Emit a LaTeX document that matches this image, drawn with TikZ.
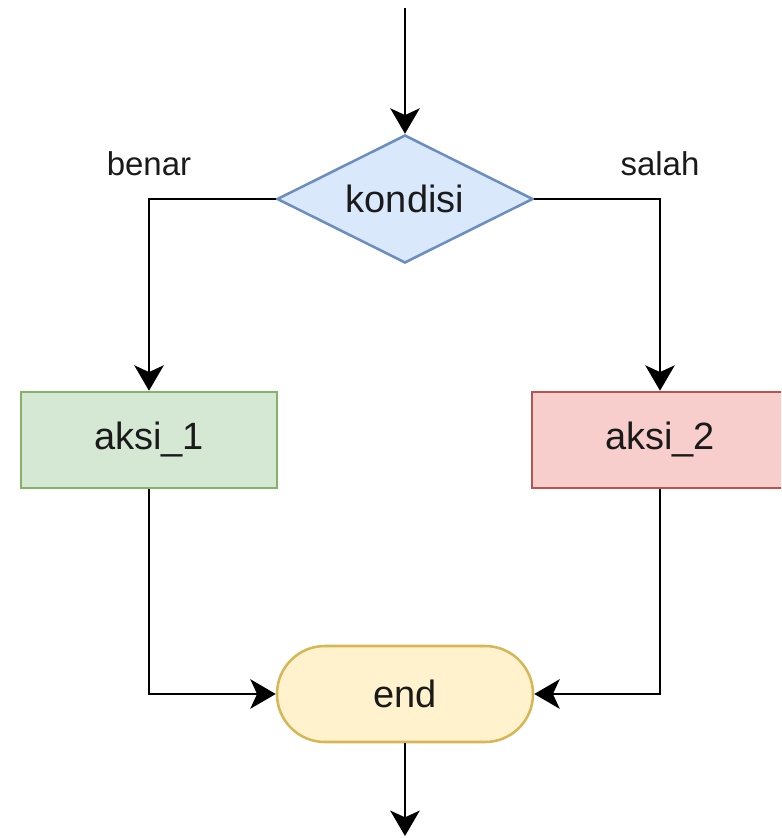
\documentclass[tikz,border=0pt]{standalone}
\usepackage{fontspec}
\setmainfont{Liberation Sans}
\usetikzlibrary{shapes.geometric,arrows.meta}

\definecolor{biruisi}{HTML}{DAE8FC}
\definecolor{birugaris}{HTML}{6C8EBF}
\definecolor{hijauisi}{HTML}{D5E8D4}
\definecolor{hijaugaris}{HTML}{82B366}
\definecolor{merahisi}{HTML}{F8CECC}
\definecolor{merahgaris}{HTML}{B85450}
\definecolor{kuningisi}{HTML}{FFF2CC}
\definecolor{kuninggaris}{HTML}{D6B656}
\definecolor{tinta}{HTML}{1A1A1A}

\begin{document}
\begin{tikzpicture}[x=0.75pt,y=-0.75pt,
		line width=2.2pt,
		>={Stealth[length=19pt,width=22pt,inset=5pt]},
		teks/.style={font=\fontsize{28.5}{34}\selectfont, text=tinta},
		label/.style={font=\fontsize{24.75}{30}\selectfont, text=tinta, inner sep=0pt},
		kotak/.style={teks, draw, line width=1.9pt, minimum width=192pt, minimum height=72pt, inner sep=0pt},
		belah/.style={teks, diamond, draw=birugaris, fill=biruisi, line width=1.9pt, aspect=2,
			minimum width=192pt, minimum height=96pt, inner sep=0pt},
		hijau/.style={draw=hijaugaris, fill=hijauisi},
		merah/.style={draw=merahgaris, fill=merahisi},
		ujung/.style={kotak, draw=kuninggaris, fill=kuningisi, rounded corners=35.9pt}
	]
	\clip (0,0) rectangle (781,838);
	
	\coordinate (masuk) at (405,8);
	\coordinate (keluar) at (405,836);
	
	\node[belah] (kondisi) at (405,199) {kondisi};
	\node[kotak, hijau] (aksi1) at (149,440) {aksi\_1};
	\node[kotak, merah] (aksi2) at (660,440) {aksi\_2};
	\node[ujung] (selesai) at (405,694) {end};
	
	\draw[->] (masuk) -- (kondisi.north);
	\draw[->] (kondisi.west) -| node[pos=0.5, label, above=16.5pt]{benar} (aksi1.north);
	\draw[->] (kondisi.east) -| node[pos=0.5, label, above=16.5pt]{salah} (aksi2.north);
	
	\draw[->] (aksi1.south) |- (selesai.west);
	\draw[->] (aksi2.south) |- (selesai.east);
	\draw[->] (selesai.south) -- (keluar);
\end{tikzpicture}
\end{document}
